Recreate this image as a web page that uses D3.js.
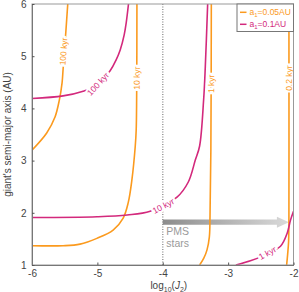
<!DOCTYPE html>
<html>
<head>
<meta charset="utf-8">
<script src="https://cdn.jsdelivr.net/npm/d3@7"></script>
<style>
  body { margin: 0; background: #fff; }
  svg { display: block; font-family: "Liberation Sans", Arial, Helvetica, sans-serif; }
</style>
</head>
<body>
<div id="chart"></div>
<script>
// ticks
var xTicks = [-6, -5, -4, -3, -2]
var yTicks = [1, 2, 3, 4, 5, 6]

// contour lines, [log10(J2), a (AU)]
// a1 = 0.05 AU
var orange100 = [[-6, 3.20], [-5.775, 3.53], [-5.648, 3.835], [-5.582, 4.16], [-5.540, 4.49],
                 [-5.525, 4.74], [-5.484, 5.44], [-5.453, 6.0]]
var orange10 = [[-6, 1.37], [-5.525, 1.37], [-5.265, 1.40], [-5.008, 1.51], [-4.759, 1.67],
                [-4.605, 1.90], [-4.529, 2.19], [-4.472, 2.63], [-4.421, 3.27], [-4.406, 3.59],
                [-4.398, 4.5], [-4.395, 6.0]]
var orange1 = [[-3.436, 1.0], [-3.372, 1.13], [-3.323, 1.29], [-3.287, 1.54], [-3.277, 1.93],
               [-3.264, 3.20], [-3.257, 6.0]]
var orange02 = [[-2.105, 1.0], [-2.090, 1.20], [-2.075, 1.45], [-2.070, 1.9], [-2.069, 3.5], [-2.070, 6.0]]
// a1 = 0.1 AU
var magenta100 = [[-6, 4.19], [-5.525, 4.24], [-5.218, 4.33], [-5.004, 4.45], [-4.805, 4.72],
                  [-4.713, 4.93], [-4.651, 5.12], [-4.590, 5.41], [-4.559, 5.64], [-4.524, 6.0]]
var magenta10 = [[-6, 1.91], [-5.004, 1.925], [-4.544, 1.958], [-4.192, 2.03], [-3.782, 2.30],
                 [-3.609, 2.59], [-3.502, 3.01], [-3.436, 3.28], [-3.375, 4.16], [-3.349, 4.80],
                 [-3.313, 6.0]]
var magenta1 = [[-2.881, 1.0], [-2.659, 1.08], [-2.475, 1.17], [-2.199, 1.36], [-2.097, 1.61],
                [-2.046, 1.86], [-2.0, 2.03]]

var seriesNames = ['0.05AU', '0.1AU']
var contours = [
  { s: 0, pts: orange100, label: '100 kyr', at: [-5.518, 5.09] },
  { s: 0, pts: orange10, label: '10 kyr', at: [-4.397, 4.58] },
  { s: 0, pts: orange1, label: '1 kyr', at: [-3.259, 4.47] },
  { s: 0, pts: orange02, label: '0.2 kyr', at: [-2.069, 4.58] },
  { s: 1, pts: magenta100, label: '100 kyr', at: [-4.99, 4.47] },
  { s: 1, pts: magenta10, label: '10 kyr', at: [-3.99, 2.13] },
  { s: 1, pts: magenta1, label: '1 kyr', at: [-2.40, 1.23] }
]
// PMS arrow (from, to, at a)
var pmsArrow = [-4, -2.07, 1.82]
var pmsText = ['PMS', 'stars']

var W = 299, H = 292
var margin = {top: 4, right: 5.5, bottom: 27, left: 32}
var colors = ['#fb9a1e', '#d3297c']

var svg = d3.select('#chart').append('svg').attr('width', W).attr('height', H)
var width = W - margin.left - margin.right
var height = H - margin.top - margin.bottom

var x = d3.scaleLinear().domain([-6, -2]).range([0, width])
var y = d3.scaleLinear().domain([1, 6]).range([height, 0])

var g = svg.append('g').attr('transform', 'translate(' + margin.left + ',' + margin.top + ')')

svg.append('defs').append('clipPath').attr('id', 'clip')
  .append('rect').attr('width', width).attr('height', height)

var grad = svg.select('defs').append('linearGradient').attr('id', 'pmsgrad')
  .attr('gradientUnits', 'userSpaceOnUse')
  .attr('x1', x(pmsArrow[0])).attr('x2', x(pmsArrow[1])).attr('y1', 0).attr('y2', 0)
grad.append('stop').attr('offset', 0).attr('stop-color', '#8c8c8c')
grad.append('stop').attr('offset', 1).attr('stop-color', '#dadada')

// dotted line at J2 = 1e-4
g.append('line')
  .attr('x1', x(-4)).attr('x2', x(-4)).attr('y1', 0).attr('y2', height)
  .style('stroke', '#9a9a9a').style('stroke-width', 1.5).style('stroke-dasharray', '1,1.5')

// arrow
var ay = y(pmsArrow[2]), ax0 = x(pmsArrow[0]), ax1 = x(pmsArrow[1])
var headL = 12
g.append('path')
  .attr('d', 'M' + ax0 + ',' + (ay - 2.6) + 'H' + (ax1 - headL) + 'V' + (ay - 5.5) +
       'L' + ax1 + ',' + ay + 'L' + (ax1 - headL) + ',' + (ay + 5.5) + 'V' + (ay + 2.6) +
       'H' + ax0 + 'Z')
  .style('fill', 'url(#pmsgrad)')

g.selectAll('.pms').data(pmsText).enter().append('text')
  .attr('class', 'pms')
  .attr('x', ax0 + 3.5)
  .attr('y', function(d, i) { return ay + 13 + i * 11.5 })
  .style('font-size', '10.5px').style('fill', '#9a9a9a')
  .text(function(d) { return d })

// contours
var line = d3.line()
  .x(function(d) { return x(d[0]) })
  .y(function(d) { return y(d[1]) })
  .curve(d3.curveCatmullRom.alpha(0.5))

var cg = g.append('g').attr('clip-path', 'url(#clip)')
cg.selectAll('.contour').data(contours).enter().append('path')
  .attr('class', 'contour')
  .attr('d', function(d) { return line(d.pts) })
  .style('fill', 'none')
  .style('stroke', function(d) { return colors[d.s] })
  .style('stroke-width', 1.6)

// label angle from nearest segment of the curve
function labelAngle(d) {
  var px = x(d.at[0]), py = y(d.at[1]), best = 1e9, ang = 0
  for (var i = 0; i < d.pts.length - 1; i++) {
    var x0 = x(d.pts[i][0]), y0 = y(d.pts[i][1]), x1 = x(d.pts[i + 1][0]), y1 = y(d.pts[i + 1][1])
    var mx = (x0 + x1) / 2, my = (y0 + y1) / 2
    var dist = Math.hypot(mx - px, my - py)
    if (dist < best) { best = dist; ang = Math.atan2(y1 - y0, x1 - x0) * 180 / Math.PI }
  }
  return ang
}

cg.selectAll('.clabel').data(contours).enter().append('text')
  .attr('class', 'clabel')
  .attr('transform', function(d) {
    return 'translate(' + x(d.at[0]) + ',' + y(d.at[1]) + ') rotate(' + labelAngle(d) + ')'
  })
  .attr('text-anchor', 'middle')
  .attr('dy', '0.35em')
  .style('font-size', '8.5px')
  .style('fill', function(d) { return colors[d.s] })
  .style('stroke', '#fff').style('stroke-width', 4).style('paint-order', 'stroke')
  .text(function(d) { return d.label })

// frame
g.append('rect').attr('width', width).attr('height', height)
  .style('fill', 'none').style('stroke', '#999').style('stroke-width', 1)

// axes, ticks inward
var xAxis = g.append('g').attr('class', 'xaxis')
  .attr('transform', 'translate(0,' + height + ')')
  .call(d3.axisBottom(x).tickValues(xTicks).tickSizeInner(-2.5).tickSizeOuter(0).tickPadding(4.5)
    .tickFormat(d3.format('d')))
var yAxis = g.append('g').attr('class', 'yaxis')
  .call(d3.axisLeft(y).tickValues(yTicks).tickSizeInner(-2.5).tickSizeOuter(0).tickPadding(5.5)
    .tickFormat(d3.format('d')))
g.selectAll('.xaxis .domain, .yaxis .domain').style('stroke', '#777')
g.selectAll('.xaxis line, .yaxis line').style('stroke', '#555')
g.selectAll('.xaxis text, .yaxis text')
  .style('font-size', '10px').style('fill', '#444')
  .style('font-family', '"Liberation Sans", Arial, sans-serif')
g.selectAll('.xaxis text').text(function(d) { return String(d) })

// axis titles
var xt = svg.append('text')
  .attr('x', margin.left + width / 2 + 6).attr('y', H - 3)
  .attr('text-anchor', 'middle')
  .style('font-size', '10px').style('fill', '#444')
xt.append('tspan').text('log')
xt.append('tspan').attr('dy', 2.5).style('font-size', '7px').text('10')
xt.append('tspan').attr('dy', -2.5).text('(')
xt.append('tspan').style('font-style', 'italic').text('J')
xt.append('tspan').attr('dy', 2.5).style('font-size', '7px').text('2')
xt.append('tspan').attr('dy', -2.5).text(')')

svg.append('text')
  .attr('transform', 'translate(11,' + (margin.top + height / 2) + ') rotate(-90)')
  .attr('text-anchor', 'middle')
  .style('font-size', '10px').style('fill', '#444')
  .text("giant's semi-major axis (AU)")

// legend
var lg = g.append('g').attr('transform', 'translate(' + (width - 56.5) + ',0)')
lg.append('rect').attr('width', 56.5).attr('height', 27.5)
  .style('fill', '#fff').style('stroke', '#777').style('stroke-width', 1)
var le = lg.selectAll('.leg').data(seriesNames).enter().append('g')
  .attr('class', 'leg')
  .attr('transform', function(d, i) { return 'translate(0,' + (8.3 + i * 12) + ')' })
le.append('line').attr('x1', 3).attr('x2', 9.5)
  .style('stroke', function(d, i) { return colors[i] }).style('stroke-width', 1.5)
var lt = le.append('text').attr('x', 12.5).attr('dy', '0.35em')
  .style('font-size', '8.5px').style('fill', function(d, i) { return colors[i] })
lt.append('tspan').text('a')
lt.append('tspan').attr('dy', 1.5).style('font-size', '6px').text('1')
lt.append('tspan').attr('dy', -1.5).text(function(d) { return '=' + d })
</script>
</body>
</html>
